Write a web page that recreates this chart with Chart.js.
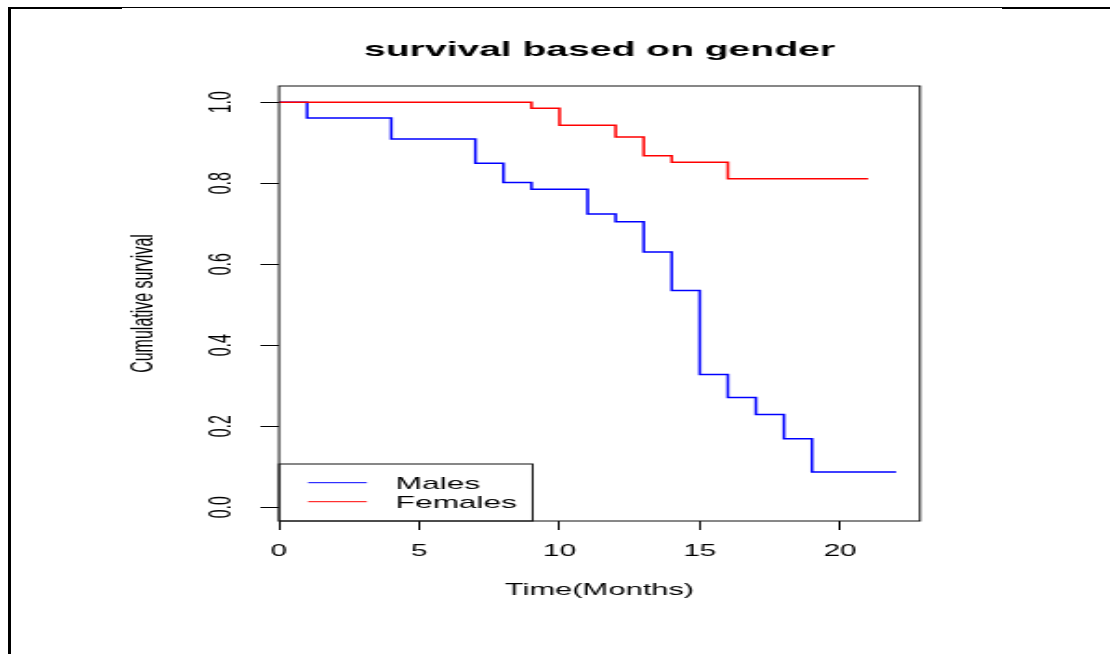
<!DOCTYPE html>
<html>
<head>
<meta charset="utf-8">
<script src="https://cdn.jsdelivr.net/npm/chart.js@4.4.1/dist/chart.umd.min.js"></script>
<style>
  html, body { margin: 0; padding: 0; background: #fff; }
  body { width: 1110px; height: 654px; position: relative; overflow: hidden; }
  /* the reference picture is an R plot stretched sideways, so the canvas is too */
  #stretch { position: absolute; left: 0; top: 0; width: 597px; height: 654px; transform: scaleX(1.8593); transform-origin: 0 0; }
  .rule { position: absolute; background: #000; }
</style>
</head>
<body>
<div class="rule" style="left:8px;top:7px;width:1102px;height:1px"></div>
<div class="rule" style="left:8px;top:7px;width:114px;height:2px"></div>
<div class="rule" style="left:1002px;top:7px;width:108px;height:2px"></div>
<div class="rule" style="left:8px;top:7px;width:3px;height:647px"></div>
<div id="stretch"><canvas id="km" width="597" height="654"></canvas></div>
<script>
const maleMonths = [0, 1, 4, 7, 8, 9, 11, 12, 13, 14, 15, 16, 17, 18, 19, 22]
const maleSurvival = [1, 0.961, 0.909, 0.849, 0.802, 0.785, 0.724, 0.705, 0.630, 0.535, 0.328, 0.271, 0.229, 0.169, 0.087, 0.087]
const femaleMonths = [0, 9, 10, 12, 13, 14, 16, 21]
const femaleSurvival = [1, 0.985, 0.943, 0.914, 0.868, 0.852, 0.811, 0.811]
const xTicks = [0, 5, 10, 15, 20]
const yTicks = [0, 0.2, 0.4, 0.6, 0.8, 1.0]
const groups = ['Males', 'Females']
const groupColors = ['#0000ff', '#ff0000']

const FONT = '"Liberation Sans", Arial, sans-serif'
Chart.defaults.font.family = FONT
Chart.defaults.color = '#000'

const toPoints = (xs, ys) => xs.map((x, i) => ({ x, y: ys[i] }))

// R style decorations: box, title, axis titles, rotated y labels, legend
const rPlot = {
  id: 'rPlot',
  afterDraw(chart) {
    const { ctx, chartArea: a, scales: { y } } = chart
    const cx = (a.left + a.right) / 2
    ctx.save()
    ctx.strokeStyle = '#111'
    ctx.lineWidth = 1
    ctx.strokeRect(a.left, a.top, a.right - a.left, a.bottom - a.top)

    ctx.fillStyle = '#000'
    ctx.textAlign = 'center'
    ctx.font = 'bold 21px ' + FONT
    ctx.textBaseline = 'alphabetic'
    ctx.fillText('survival based on gender', cx, 56)

    ctx.font = '16.6px ' + FONT
    ctx.textBaseline = 'middle'
    ctx.fillText('Time(Months)', cx, 590)

    ctx.font = '16px ' + FONT
    y.ticks.forEach(t => {
      ctx.save()
      ctx.translate(a.left - 30.6, y.getPixelForValue(t.value))
      ctx.rotate(-Math.PI / 2)
      ctx.fillText(t.value.toFixed(1), 0, 0)
      ctx.restore()
    })

    ctx.save()
    ctx.font = '16px ' + FONT
    ctx.translate(a.left - 72.5, (a.top + a.bottom) / 2)
    ctx.rotate(-Math.PI / 2)
    ctx.fillText('Cumulative survival', 0, 0)
    ctx.restore()

    // legend box in the bottom left corner
    const boxTop = a.bottom - 57
    ctx.strokeRect(a.left, boxTop, 136.4, a.bottom - boxTop)
    ctx.font = '17px ' + FONT
    ctx.textAlign = 'left'
    chart.data.datasets.forEach((ds, i) => {
      const ly = boxTop + 18.7 + i * 19
      ctx.strokeStyle = ds.borderColor
      ctx.lineWidth = 1
      ctx.beginPath()
      ctx.moveTo(a.left + 15.6, ly)
      ctx.lineTo(a.left + 47.2, ly)
      ctx.stroke()
      ctx.fillStyle = '#000'
      ctx.fillText(ds.label, a.left + 62.8, ly + 1.5)
    })
    ctx.restore()
  }
}

new Chart('km', {
  type: 'line',
  data: {
    datasets: [
      { label: groups[0], data: toPoints(maleMonths, maleSurvival), borderColor: groupColors[0], order: 1 },
      { label: groups[1], data: toPoints(femaleMonths, femaleSurvival), borderColor: groupColors[1], order: 0 }
    ]
  },
  options: {
    responsive: false,
    animation: false,
    layout: { padding: { left: 0, right: 102.2, top: 86, bottom: 0 } },
    elements: {
      line: { stepped: true, borderWidth: 1.5, tension: 0 },
      point: { radius: 0 }
    },
    plugins: {
      legend: { display: false },
      title: { display: false },
      tooltip: { enabled: false }
    },
    scales: {
      x: {
        type: 'linear',
        min: 0,
        max: 22.85,
        afterBuildTicks: s => { s.ticks = xTicks.map(v => ({ value: v })) },
        afterFit: s => { s.height = 133 },
        border: { display: false },
        grid: { drawOnChartArea: false, drawTicks: true, tickLength: 9, color: '#000' },
        ticks: { font: { size: 16 }, padding: 12, color: '#000', maxRotation: 0 }
      },
      y: {
        type: 'linear',
        min: -0.034,
        max: 1.04,
        afterBuildTicks: s => { s.ticks = yTicks.map(v => ({ value: v })) },
        afterFit: s => { s.width = 150.06 },
        border: { display: false },
        grid: { drawOnChartArea: false, drawTicks: true, tickLength: 10, color: '#000' },
        ticks: { display: false }
      }
    }
  },
  plugins: [rPlot]
})
</script>
</body>
</html>
